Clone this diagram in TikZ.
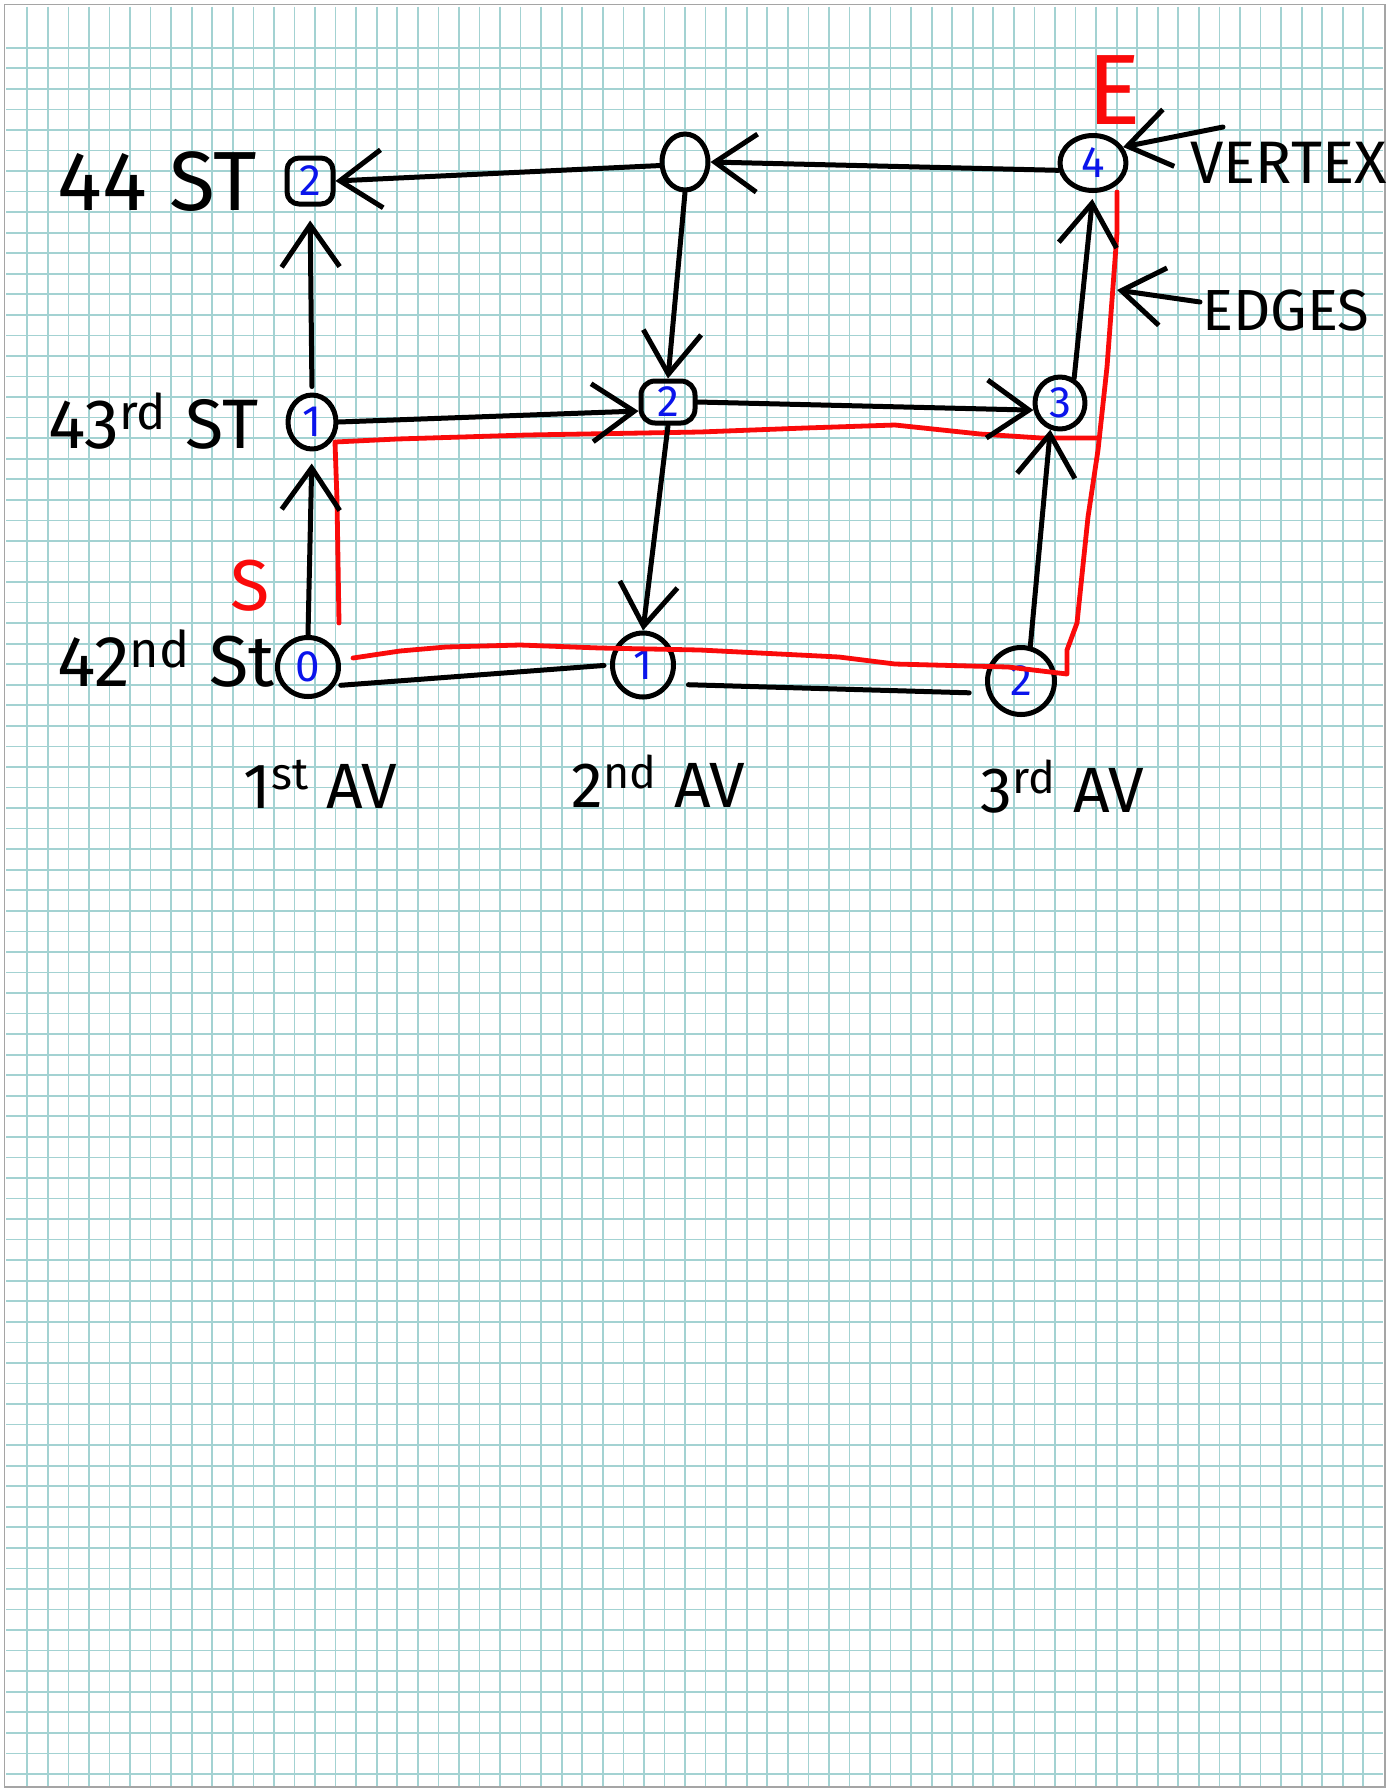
\documentclass[tikz,border=0pt]{standalone}
\usepackage{fontspec}
\setmainfont{Fira Sans}
\usetikzlibrary{arrows.meta,shapes.geometric}
\definecolor{gridc}{RGB}{163,210,210}
\definecolor{framec}{RGB}{165,165,165}
\definecolor{inkblue}{RGB}{10,20,235}
\definecolor{inkred}{RGB}{250,10,10}
\begin{document}
\begin{tikzpicture}[x=0.5pt,y=-0.5pt,
  hand/.style={line width=2.5pt, line cap=round, line join=round, draw=black},
  vtx/.style={hand, ellipse, inner sep=0pt, text=inkblue, font=\fontsize{22}{22}\selectfont},
  vtxsq/.style={hand, rectangle, rounded corners=6pt, inner sep=0pt, text=inkblue, font=\fontsize{22}{22}\selectfont},
  arr/.style={hand, -{Straight Barb[length=21pt,width=29pt]}},
  plainedge/.style={hand},
  route/.style={line width=2.4pt, draw=inkred, line cap=round, line join=round},
  lbl/.style={inner sep=0pt, anchor=base west, text=black},
  redlbl/.style={inner sep=0pt, text=inkred},
  gridline/.style={draw=gridc, line width=0.85pt},
]
\useasboundingbox (0,0) rectangle (1389,1790);
\fill[white] (0,0) rectangle (1389,1790);
% graph paper
\foreach \i in {0,...,65} \draw[gridline] ({27.3+20.554*\i},6.7) -- ({27.3+20.554*\i},1787);
\foreach \j in {0,...,84} \draw[gridline] (6,{47.7+20.55*\j}) -- (1383,{47.7+20.55*\j});
\draw[draw=framec, line width=0.8pt] (4.3,4.3) rectangle (1385,1787);

% vertices
\node[vtxsq, minimum width=23pt, minimum height=23pt] (n44) at (310,181) {2};
\node[vtx, minimum width=23pt, minimum height=28pt] (ntm) at (685,162) {};
\node[vtx, minimum width=33pt, minimum height=27.5pt] (n4) at (1093,163) {4};
\node[vtx, minimum width=24pt, minimum height=27pt] (n43) at (312,422) {1};
\node[vtxsq, rounded corners=7pt, minimum width=27pt, minimum height=21pt] (nm) at (668,402) {2};
\node[vtx, minimum width=25pt, minimum height=26pt] (n3) at (1060,403) {3};
\node[vtx, minimum width=30.5pt, minimum height=29.5pt] (n0) at (308,667) {0};
\node[vtx, minimum width=30.5pt, minimum height=32pt] (nb1) at (643,665) {1};
\node[vtx, minimum width=33.5pt, minimum height=33.5pt] (nb2) at (1021,681) {2};

% red routes
\draw[route] (353,658) -- (400,651) -- (446,647) -- (520,645) -- (600,648) -- (700,650)
  -- (839,657) -- (895,664) -- (1008,667) -- (1067,674) -- (1067,650) -- (1077,623)
  -- (1088,517) -- (1098,450) -- (1107,367) -- (1117,233) -- (1117,192);
\draw[route] (339,623) -- (337,500) -- (335,442) -- (397,439) -- (527,435) -- (700,432)
  -- (805,428) -- (895,425) -- (980,434) -- (1041,438) -- (1097,438);

% edges
\draw[arr] (ntm.188) -- (n44.east);
\draw[arr] (n4.192) -- (ntm.east);
\draw[arr] (ntm.south) -- (nm.north);
\draw[arr, shorten <=3pt, shorten >=7pt] (n43.north) -- (n44.south);
\draw[arr] (n43.east) -- (nm.197);
\draw[arr] (nm.east) -- (n3.195);
\draw[arr] (nm.south) -- (nb1.north);
\draw[arr, shorten >=6pt] (n0.north) -- (n43.south);
\draw[plainedge, shorten <=3pt, shorten >=3pt] (n0.-35) -- (nb1.west);
\draw[plainedge, shorten <=9pt, shorten >=9pt] (nb1.-35) -- (nb2.200);
\draw[arr] (nb2.75) -- (n3.250);
\draw[arr, shorten >=3pt] (n3.60) -- (n4.south);

% labels
\node[lbl, font=\fontsize{42}{42}\selectfont] (s44) at (57,210) {44 ST};
\node[lbl, font=\fontsize{35}{35}\selectfont] (s43) at (48,448) {43\textsuperscript{rd} ST};
\node[lbl, font=\fontsize{36}{36}\selectfont] (s42) at (57,686) {42\textsuperscript{nd} St};
\node[lbl, font=\fontsize{32}{32}\selectfont] (a1) at (243,808) {1\textsuperscript{st} AV};
\node[lbl, font=\fontsize{32}{32}\selectfont] (a2) at (571,807) {2\textsuperscript{nd} AV};
\node[lbl, font=\fontsize{32}{32}\selectfont] (a3) at (980,812) {3\textsuperscript{rd} AV};
\node[redlbl, font=\fontsize{50}{50}\selectfont] (E) at (1114,90) {E};
\node[redlbl, font=\fontsize{36}{36}\selectfont] (S) at (250,586) {S};

% annotations
\node[lbl, font=\fontsize{30}{30}\selectfont] (vertex) at (1190,183) {VERTEX};
\coordinate (vtail) at (1223,127);
\draw[arr] (vtail) -- (n4.28);
\node[lbl, font=\fontsize{29}{29}\selectfont] (edges) at (1202,330) {EDGES};
\coordinate (etail) at (1200,302);
\coordinate (etip) at (1117,290);
\draw[arr] (etail) -- (etip);
\end{tikzpicture}
\end{document}
